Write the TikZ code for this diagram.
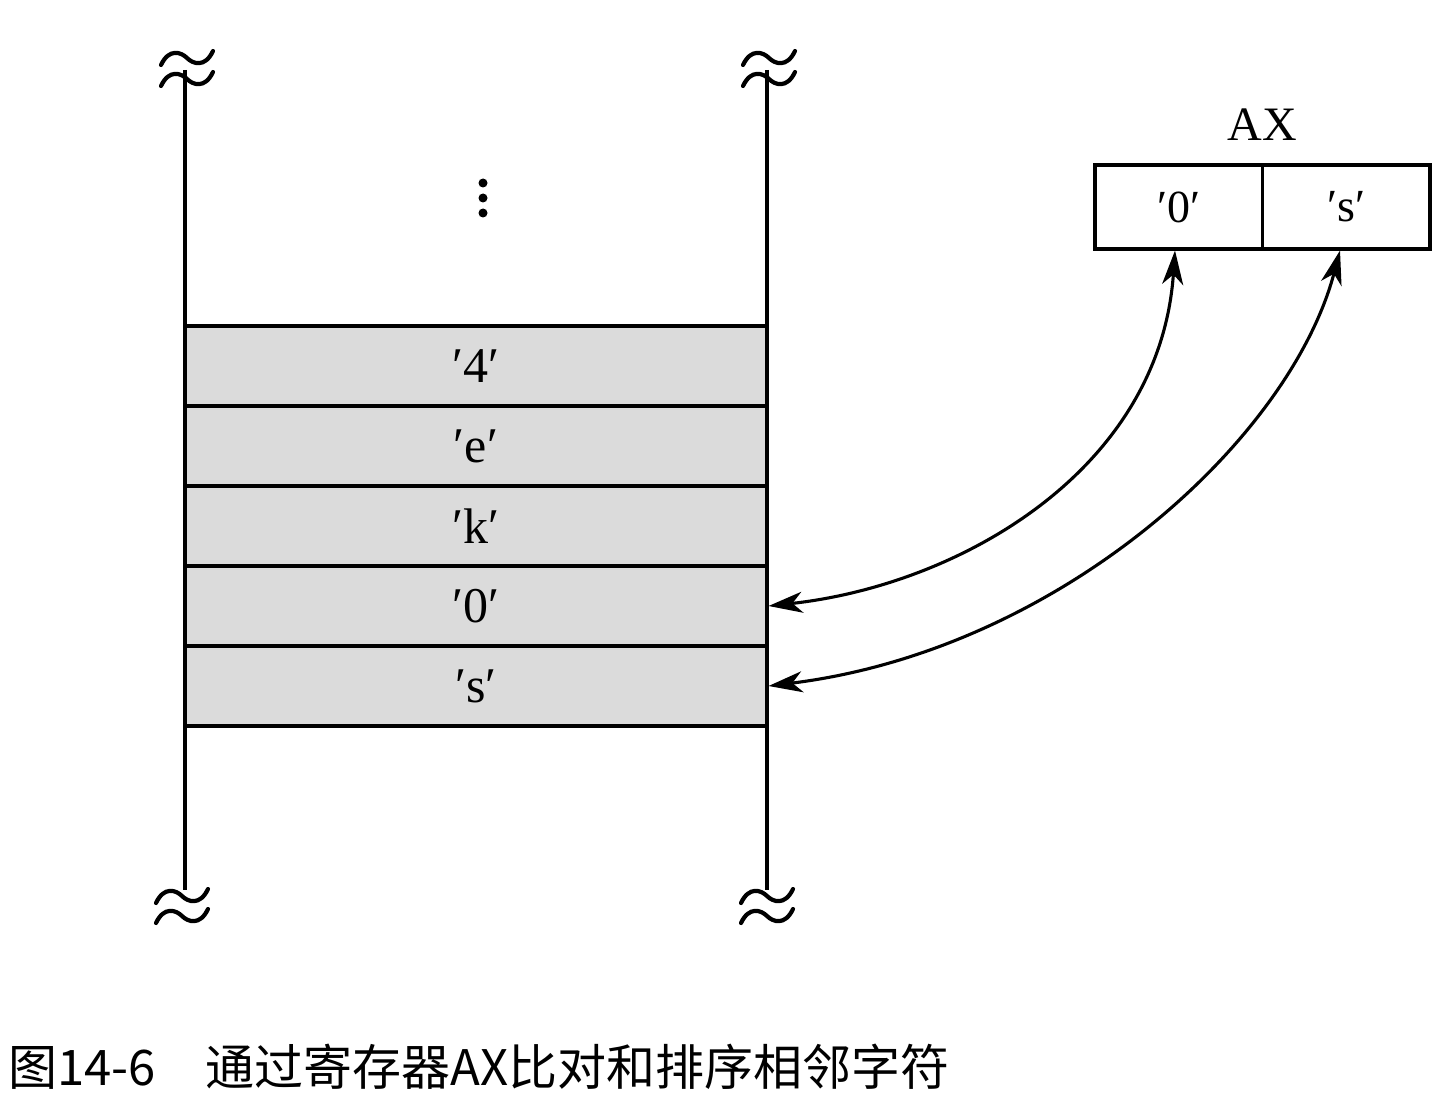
\documentclass[tikz,border=0pt]{standalone}
\usepackage{fontspec}
\setmainfont{Liberation Serif}
\newfontfamily\cjk{Noto Sans CJK SC}
\usetikzlibrary{arrows.meta}
\tikzset{
  ln/.style={line width=3.1pt},
  cell/.style={draw, ln, fill=black!14, minimum width=582pt, minimum height=80pt, inner sep=0pt, font=\fontsize{50}{60}\selectfont},
  reg/.style={draw, ln, fill=white, minimum width=167.5pt, minimum height=84pt, inner sep=0pt, font=\fontsize{46}{56}\selectfont},
  link/.style={ln, {Stealth[length=34pt,width=21pt,inset=10pt]}-{Stealth[length=34pt,width=21pt,inset=10pt]}},
  pics/wavy/.style={code={
    \draw[line width=4.2pt, line cap=round] (-26,7) .. controls (-18,-10) and (-6,-6) .. (0,0) .. controls (6,6) and (18,10) .. (26,-7);
  }}
}
\begin{document}
\begin{tikzpicture}[x=1pt,y=-1pt]
\useasboundingbox (0,0) rectangle (1453,1107);
% rails
\coordinate (lt) at (185,70);
\coordinate (lb) at (185,890);
\coordinate (rt) at (767,70);
\coordinate (rb) at (767,890);
\draw[ln] (lt) -- (lb);
\draw[ln] (rt) -- (rb);
\pic at (187,58) {wavy};
\pic at (187,79) {wavy};
\pic at (769,58) {wavy};
\pic at (769,79) {wavy};
\pic at (182,896) {wavy};
\pic at (182,916) {wavy};
\pic at (767,896) {wavy};
\pic at (767,916) {wavy};
% dots
\fill (483,183) circle (4.5pt);
\fill (483,198) circle (4.5pt);
\fill (483,213) circle (4.5pt);
% cells
\node[cell] (c1) at (476,366) {′4′};
\node[cell] (c2) at (476,446) {′e′};
\node[cell] (c3) at (476,526) {′k′};
\node[cell] (c4) at (476,606) {′0′};
\node[cell] (c5) at (476,686) {′s′};
% register
\node[reg] (a0) at (1178.75,207) {′0′};
\node[reg] (as) at (1346.25,207) {′s′};
\node[font=\fontsize{48}{56}\selectfont] (ax) at (1262,125) {AX};
% arrows
\draw[link] (a0.south -| 1175,0) .. controls (1160,470) and (960,585) .. (c4.east);
\draw[link] (as.south -| 1340,0) .. controls (1290,440) and (1060,650) .. (c5.east);
% caption
\node[anchor=base west, inner sep=0pt, font=\cjk\fontsize{49}{58}\selectfont] (cap) at (8,1085) {图14-6\hspace{50pt}通过寄存器AX比对和排序相邻字符};
\end{tikzpicture}
\end{document}
